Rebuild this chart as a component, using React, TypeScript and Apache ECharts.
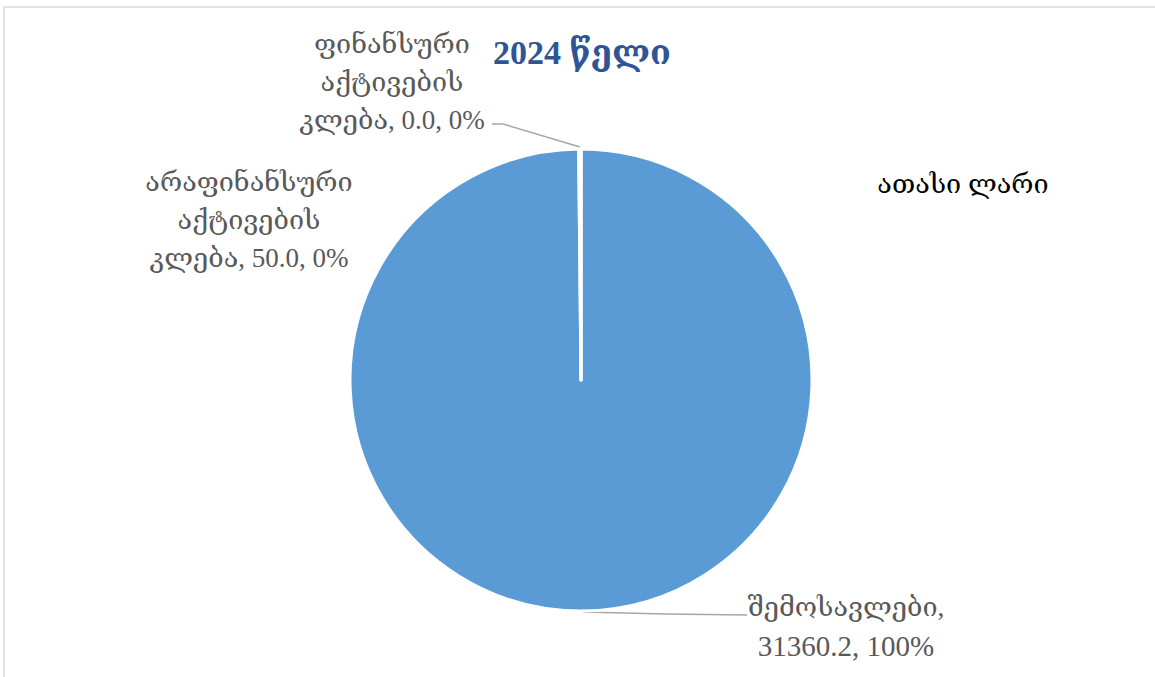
import React, { useEffect, useRef } from "react";
import * as echarts from "echarts";

const categories = [
  "შემოსავლები",
  "არაფინანსური აქტივების კლება",
  "ფინანსური აქტივების კლება",
];
const values = [31360.2, 50.0, 0.0];
const titleText = "2024 წელი";
const unitText = "ათასი ლარი";

const FONT = '"Liberation Serif", "DejaVu Serif", serif';

// label anchor positions (centre of each label block) and leader lines
const labelPos: Record<number, { x: number; y: number; line?: number[][] }> = {
  0: { x: 846, y: 627, line: [[583, 612], [666, 614], [747, 615]] },
  1: { x: 249, y: 220 },
  2: { x: 392, y: 82, line: [[580, 147], [503, 124], [492, 124]] },
};

export default function App() {
  const ref = useRef<HTMLDivElement>(null);
  useEffect(() => {
    document.body.style.margin = "0";
    const chart = echarts.init(ref.current!, undefined, { renderer: "svg" });
    chart.setOption({
      animation: false,
      backgroundColor: "#ffffff",
      title: {
        text: titleText,
        left: 577,
        top: 30,
        textAlign: "center",
        textStyle: {
          fontFamily: FONT,
          fontSize: 34,
          fontWeight: "bold",
          color: "#2F5597",
        },
      },
      graphic: [
        {
          type: "rect",
          shape: { x: 4, y: 7, width: 1200, height: 720 },
          style: { fill: "none", stroke: "#D9D9D9", lineWidth: 1.5 },
          silent: true,
        },
        {
          type: "text",
          x: 963,
          y: 184,
          style: {
            text: unitText,
            fontFamily: FONT,
            fontSize: 27,
            fill: "#000000",
            align: "center",
            verticalAlign: "middle",
          },
        },
      ],
      series: [
        {
          type: "pie",
          center: [581, 380],
          radius: [0, 231],
          startAngle: 90,
          clockwise: true,
          avoidLabelOverlap: false,
          percentPrecision: 0,
          itemStyle: {
            color: "#5B9BD5",
            borderColor: "#ffffff",
            borderWidth: 3,
          },
          label: {
            show: true,
            fontFamily: FONT,
            fontSize: 27,
            lineHeight: 38,
            color: "#595959",
            align: "center",
            formatter: (p: any) => {
              const name: string = p.name;
              const v = Number(p.value).toFixed(1);
              const pct = Math.round(p.percent) + "%";
              if (name.includes(" ")) {
                return name.split(" ").join("\n") + ", " + v + ", " + pct;
              }
              return name + ",\n{n|" + v + ", " + pct + "}";
            },
            rich: {
              n: {
                fontFamily: FONT,
                fontSize: 29,
                lineHeight: 40,
                color: "#595959",
              },
            },
          },
          labelLine: {
            show: true,
            lineStyle: { color: "#A6A6A6", width: 1.5 },
          },
          labelLayout: (params: any) => {
            const pos = labelPos[params.dataIndex];
            return {
              x: pos.x,
              y: pos.y,
              align: "center",
              verticalAlign: "middle",
              labelLinePoints: pos.line,
            };
          },
          data: categories.map((name, i) => ({
            name,
            value: values[i],
            labelLine: { show: i !== 1 },
          })),
        },
      ],
    });
    return () => chart.dispose();
  }, []);
  return <div ref={ref} style={{ width: 1155, height: 677 }} />;
}
